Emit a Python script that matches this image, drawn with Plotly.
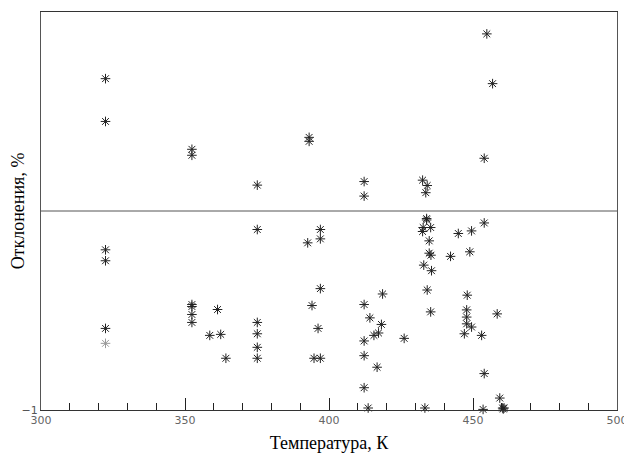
import plotly.graph_objects as go

temperature = [
    322.4, 322.4, 322.4, 322.4, 322.4, 322.4,
    352.4, 352.4, 352.4, 352.4, 352.4, 352.4,
    358.6, 361.3, 362.4, 364.2,
    375.1, 375.1, 375.1, 375.1, 375.1, 375.1,
    393.1, 393.1, 392.6, 397.0, 397.0, 397.0, 394.1, 396.2, 394.8, 397.0,
    412.2, 412.2, 412.2, 418.6, 414.2, 418.2, 415.6, 417.2, 412.2, 426.1,
    412.2, 416.7, 412.2, 413.6,
    432.5, 434.1, 433.6, 433.9, 433.9, 432.7, 435.3, 432.5, 434.8, 434.8,
    435.4, 432.9, 435.6, 434.1, 435.3, 433.3,
    444.9, 449.5, 442.2, 448.9, 448.0, 447.8, 447.8, 447.8, 449.5, 447.0,
    454.8, 456.8, 453.9, 453.9, 458.4, 453.0, 453.9, 459.3, 453.5,
    460.3, 460.8, 460.5,
]
deviation = [
    0.665, 0.45, -0.195, -0.25, -0.59, -0.665,
    0.31, 0.28, -0.47, -0.48, -0.52, -0.56,
    -0.625, -0.495, -0.62, -0.74,
    0.13, -0.093, -0.56, -0.617, -0.685, -0.74,
    0.37, 0.35, -0.16, -0.093, -0.14, -0.39, -0.475, -0.59, -0.74, -0.74,
    0.148, 0.075, -0.47, -0.417, -0.537, -0.57, -0.625, -0.613, -0.653, -0.64,
    -0.727, -0.785, -0.888, -0.99,
    0.155, 0.128, 0.092, -0.038, -0.045, -0.083, -0.083, -0.103, -0.15, -0.212,
    -0.222, -0.272, -0.3, -0.397, -0.507, -0.99,
    -0.113, -0.1, -0.228, -0.205, -0.423, -0.497, -0.533, -0.567, -0.583, -0.617,
    0.89, 0.64, 0.265, -0.06, -0.517, -0.625, -0.817, -0.94, -0.997,
    -0.99, -0.99, -0.995,
]
point_colors = ["#222222"] * len(temperature)
point_colors[5] = "#999999"

x_tick_vals = [300, 350, 400, 450, 500]
x_tick_text = ["300", "350", "400", "450", "500"]
y_tick_vals = [-1]
y_tick_text = ["\u22121"]

fig = go.Figure()
fig.add_trace(go.Scatter(
    x=temperature, y=deviation, mode="markers",
    marker=dict(symbol="asterisk-open", size=8,
                line=dict(color=point_colors, width=1), color=point_colors),
    cliponaxis=False, showlegend=False,
))
fig.add_hline(y=0, line=dict(color="#555555", width=1))

fig.update_layout(
    width=624, height=451,
    margin=dict(l=33, r=15, t=4, b=49),
    paper_bgcolor="white", plot_bgcolor="white",
    xaxis=dict(
        range=[300, 500], tickvals=x_tick_vals, ticktext=x_tick_text,
        automargin=False,
        ticks="inside", ticklen=12, tickcolor="#222", tickwidth=1,
        minor=dict(dtick=10, tick0=300, ticks="inside", ticklen=7, tickcolor="#222"),
        showline=True, linecolor="#333", linewidth=1, mirror=True,
        showgrid=False, zeroline=False,
        tickfont=dict(family="DejaVu Sans", size=11, color="#666"),
        title=dict(text="Температура, К", standoff=10,
                   font=dict(family="Liberation Serif", size=18, color="#000")),
    ),
    yaxis=dict(
        range=[-1, 1], tickvals=y_tick_vals, ticktext=y_tick_text,
        automargin=False,
        ticks="", showline=True, linecolor="#555", linewidth=1, mirror=True,
        showgrid=False, zeroline=False,
        tickfont=dict(family="DejaVu Sans", size=11, color="#555"),
        title=dict(text="Отклонения, %", standoff=0,
                   font=dict(family="Liberation Serif", size=18, color="#000")),
    ),
)

fig.write_html("out.html")
